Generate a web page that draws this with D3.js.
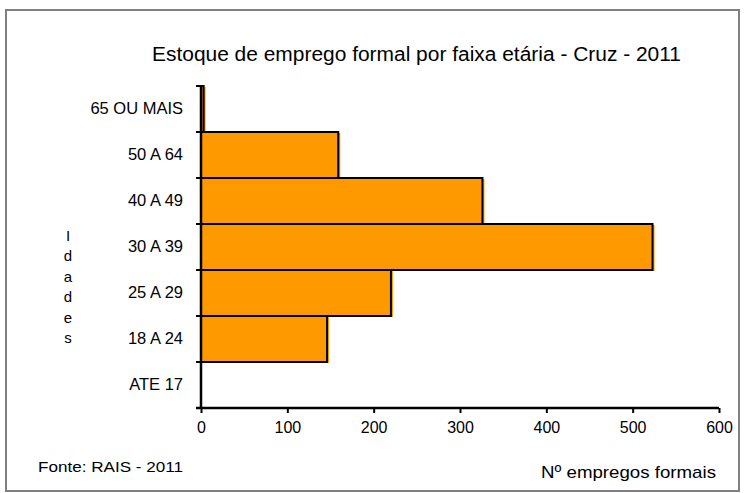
<!DOCTYPE html>
<html>
<head>
<meta charset="utf-8">
<script src="https://cdn.jsdelivr.net/npm/d3@7"></script>
<style>
  body { margin: 0; background: #fff; }
  text { font-family: "Liberation Sans", Arial, sans-serif; fill: #000; }
</style>
</head>
<body>
<svg id="canvas" width="744" height="493"></svg>
<script>
var categories = ["ATE 17", "18 A 24", "25 A 29", "30 A 39", "40 A 49", "50 A 64", "65 OU MAIS"];
var values = [0, 146, 220, 523, 326, 159, 3];
var xTicks = [0, 100, 200, 300, 400, 500, 600];
var yTitle = "Idades".split("");

var plotLeft = 201, plotRight = 719, plotTop = 86, plotBottom = 408;
var svg = d3.select("#canvas");

// outer frame
svg.append("rect")
	.attr("x", 6).attr("y", 10)
	.attr("width", 733).attr("height", 481)
	.attr("fill", "none")
	.attr("stroke", "#808080")
	.attr("stroke-width", 2);

var xScale = d3.scaleLinear().domain([0, 600]).range([plotLeft, plotRight]);
var yScale = d3.scaleBand().domain(categories.slice().reverse()).range([plotTop, plotBottom]).padding(0);

var data = categories.map(function(c, i) { return {cat: c, v: values[i]}; });

// bars (small orange offset like the source, then outlined bar)
svg.selectAll("rect.shadow").data(data.filter(d => d.v > 0)).enter()
	.append("rect").attr("class", "shadow")
	.attr("x", xScale(0) + 2)
	.attr("y", d => yScale(d.cat) + 1)
	.attr("width", d => xScale(d.v) - xScale(0))
	.attr("height", yScale.bandwidth())
	.attr("fill", "#ff9900");

svg.selectAll("rect.bar").data(data.filter(d => d.v > 0)).enter()
	.append("rect").attr("class", "bar")
	.attr("x", xScale(0))
	.attr("y", d => yScale(d.cat))
	.attr("width", d => xScale(d.v) - xScale(0))
	.attr("height", yScale.bandwidth())
	.attr("fill", "#ff9900")
	.attr("stroke", "#000")
	.attr("stroke-width", 2);

// x axis
var xAxis = d3.axisBottom(xScale).tickValues(xTicks).tickSize(5).tickPadding(9).tickFormat(d3.format("d"));
var gx = svg.append("g")
	.attr("transform", "translate(0," + plotBottom + ")")
	.call(xAxis);
gx.select(".domain").attr("stroke-width", 2.5).attr("d", "M" + (plotLeft - 5) + ",0H" + plotRight);
gx.selectAll(".tick line").attr("stroke-width", 2);
gx.selectAll("text").style("font-size", "16px").attr("font-family", "Liberation Sans, Arial, sans-serif");

// y axis: labels centered in bands, ticks at band edges
var yAxis = d3.axisLeft(yScale).tickSize(0).tickPadding(18);
var gy = svg.append("g")
	.attr("transform", "translate(" + plotLeft + ",0)")
	.call(yAxis);
gy.select(".domain").attr("stroke-width", 2.5).attr("d", "M0," + plotTop + "V" + plotBottom);
gy.selectAll("text").style("font-size", "16.5px").attr("font-family", "Liberation Sans, Arial, sans-serif");

var edges = categories.map(c => yScale(c)).concat([plotBottom]);
svg.selectAll("line.ytick").data(edges).enter()
	.append("line").attr("class", "ytick")
	.attr("x1", plotLeft - 5).attr("x2", plotLeft)
	.attr("y1", d => d).attr("y2", d => d)
	.attr("stroke", "#000").attr("stroke-width", 2);

// title
svg.append("text")
	.attr("x", 152).attr("y", 61)
	.attr("textLength", 529)
	.attr("lengthAdjust", "spacingAndGlyphs")
	.style("font-size", "20px")
	.text("Estoque de emprego formal por faixa etária - Cruz - 2011");

// vertical y title
svg.selectAll("text.ylab").data(yTitle).enter()
	.append("text").attr("class", "ylab")
	.attr("x", 68)
	.attr("y", (d, i) => 241 + i * 20.4)
	.attr("text-anchor", "middle")
	.style("font-size", "15px")
	.text(d => d);

svg.append("text")
	.attr("x", 38).attr("y", 472)
	.attr("textLength", 145)
	.attr("lengthAdjust", "spacingAndGlyphs")
	.style("font-size", "14.5px")
	.text("Fonte: RAIS - 2011");

svg.append("text")
	.attr("x", 541).attr("y", 478)
	.attr("textLength", 175)
	.attr("lengthAdjust", "spacingAndGlyphs")
	.style("font-size", "17px")
	.text("Nº empregos formais");
</script>
</body>
</html>
